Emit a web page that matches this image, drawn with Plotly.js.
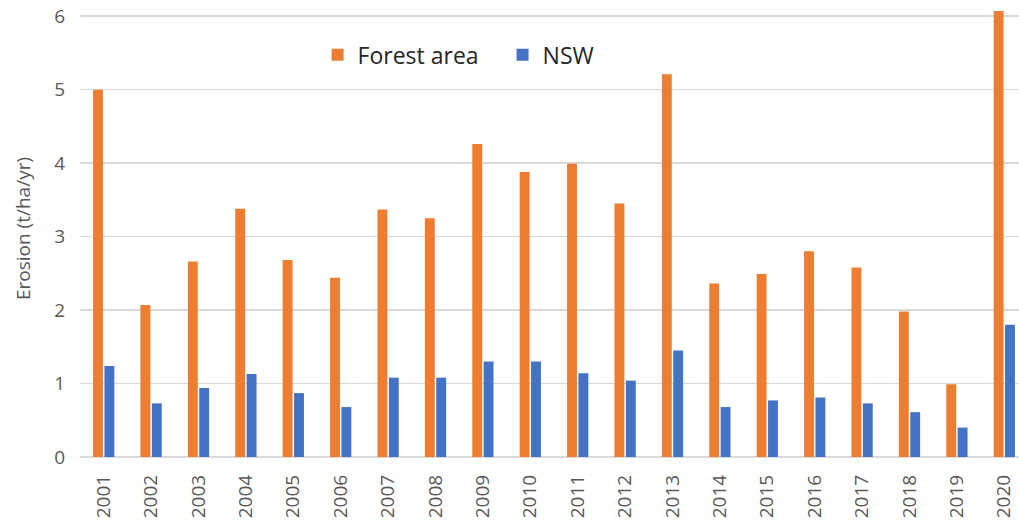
<!DOCTYPE html>
<html>
<head>
<meta charset="utf-8">
<script src="https://cdn.plot.ly/plotly-3.0.1.min.js"></script>
<style>html,body{margin:0;padding:0;background:#fff;}#chart{width:1019px;height:529px;}</style>
</head>
<body>
<div id="chart"></div>
<script>
const years = ["2001","2002","2003","2004","2005","2006","2007","2008","2009","2010",
               "2011","2012","2013","2014","2015","2016","2017","2018","2019","2020"];
const forestArea = [5.00,2.07,2.66,3.38,2.68,2.44,3.37,3.25,4.26,3.88,
                    3.99,3.45,5.21,2.36,2.49,2.80,2.58,1.98,0.99,6.07];
const nsw = [1.24,0.73,0.94,1.13,0.87,0.68,1.08,1.08,1.30,1.30,
             1.14,1.04,1.45,0.68,0.77,0.81,0.73,0.61,0.40,1.80];
const yTicks = [0,1,2,3,4,5,6];

const traces = [
  {type:'bar', name:'Forest area', x:years, y:forestArea, marker:{color:'#ED7D31'}},
  {type:'bar', name:'NSW', x:years, y:nsw, marker:{color:'#4472C4'}}
];

const layout = {
  width:1019, height:529,
  margin:{l:80, r:0, t:0, b:72},
  paper_bgcolor:'#fff', plot_bgcolor:'#fff',
  font:{family:'"Open Sans", "Noto Sans", sans-serif', color:'#595959'},
  barmode:'group', bargap:0.52, bargroupgap:0.13,
  showlegend:true,
  legend:{orientation:'h', x:0.253, xanchor:'left', y:0.88, yanchor:'middle',
          entrywidth:140, entrywidthmode:'pixels',
          font:{size:23, color:'#262626'}, bgcolor:'rgba(0,0,0,0)'},
  xaxis:{type:'category', range:[-0.5,19.31], tickangle:-90, tickfont:{size:19, color:'#595959'},
         ticks:'', ticklabelstandoff:13, showline:false, showgrid:false, zeroline:false},
  yaxis:{range:[0,6.22], tickvals:yTicks, ticktext:yTicks.map(String), tickfont:{size:19, color:'#595959'},
         ticks:'', ticklabelstandoff:14, showgrid:true, gridcolor:'#d9d9d9', gridwidth:1.5,
         zeroline:true, zerolinecolor:'#d9d9d9', zerolinewidth:1.5, showline:false,
         title:{text:'Erosion (t/ha/yr)', font:{size:19, color:'#595959'}, standoff:18}}
};
Plotly.newPlot('chart', traces, layout, {displayModeBar:false, staticPlot:true});
</script>
</body>
</html>
